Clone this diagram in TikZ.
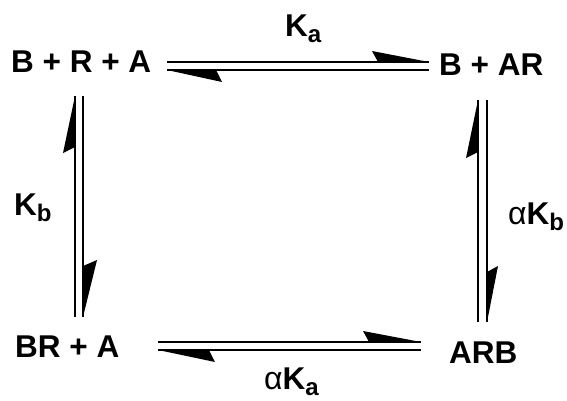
\documentclass[tikz,border=0pt]{standalone}
\usepackage{fontspec}
\setmainfont{Liberation Sans}
\newcommand{\chemsub}[1]{\raisebox{-6.5pt}{\fontsize{24}{24}\selectfont\bfseries #1}}
\newcommand{\alf}{{\mdseries\fontsize{32}{32}\selectfont α}}
\begin{document}
\begin{tikzpicture}[x=1pt,y=-1pt,
  species/.style={inner sep=0pt,anchor=base west,font=\fontsize{31.5}{31.5}\selectfont\bfseries},
  konst/.style={inner sep=0pt,anchor=base west,font=\fontsize{31.5}{31.5}\selectfont\bfseries},
  rxline/.style={line width=2.2pt},
  barb/.style={fill=black,draw=none}]
\useasboundingbox (0,0) rectangle (567,400);
% species
\node[species] (s1) at (11,72) {B + R + A};
\node[species] (s2) at (439,75) {B + AR};
\node[species] (s3) at (15,357) {BR + A};
\node[species] (s4) at (449,363) {ARB};
% constants
\node[konst] (ka) at (285,36) {K\chemsub{a}};
\node[konst] (kb) at (14,215) {K\chemsub{b}};
\node[konst] (akb) at (508,224) {\alf K\chemsub{b}};
\node[konst] (aka) at (264,389) {\alf K\chemsub{a}};
% top equilibrium
\coordinate (t1a) at (167,62); \coordinate (t1b) at (429,62);
\coordinate (t2a) at (167,70); \coordinate (t2b) at (429,70);
\draw[rxline] (t1a) -- (t1b);
\draw[rxline] (t2b) -- (t2a);
\fill[barb] (t1b) -- (372,51) -- (378,62) -- cycle;
\fill[barb] (t2a) -- (222,82) -- (216,70) -- cycle;
% bottom equilibrium
\coordinate (b1a) at (158,342); \coordinate (b1b) at (421,342);
\coordinate (b2a) at (158,350); \coordinate (b2b) at (421,350);
\draw[rxline] (b1a) -- (b1b);
\draw[rxline] (b2b) -- (b2a);
\fill[barb] (b1b) -- (363,331) -- (369,342) -- cycle;
\fill[barb] (b2a) -- (215,362) -- (209,350) -- cycle;
% left equilibrium
\coordinate (l1a) at (75,317); \coordinate (l1b) at (75,96);
\coordinate (l2a) at (83,96); \coordinate (l2b) at (83,317);
\draw[rxline] (l1a) -- (l1b);
\draw[rxline] (l2a) -- (l2b);
\fill[barb] (l1b) -- (63,153) -- (75,147) -- cycle;
\fill[barb] (l2b) -- (97,260) -- (83,266) -- cycle;
% right equilibrium
\coordinate (r1a) at (478,322); \coordinate (r1b) at (478,100);
\coordinate (r2a) at (487,100); \coordinate (r2b) at (487,322);
\draw[rxline] (r1a) -- (r1b);
\draw[rxline] (r2a) -- (r2b);
\fill[barb] (r1b) -- (466,158) -- (478,152) -- cycle;
\fill[barb] (r2b) -- (498,266) -- (487,272) -- cycle;
\end{tikzpicture}
\end{document}
